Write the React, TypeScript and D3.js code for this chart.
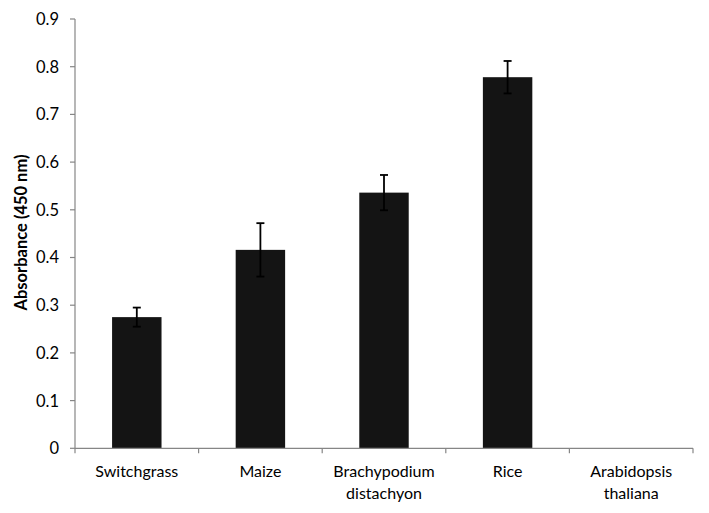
import React from "react";
import * as d3 from "d3";

const categories = ["Switchgrass", "Maize", "Brachypodium distachyon", "Rice", "Arabidopsis thaliana"];
const categoryLines = [["Switchgrass"], ["Maize"], ["Brachypodium", "distachyon"], ["Rice"], ["Arabidopsis", "thaliana"]];
const values = [0.275, 0.416, 0.536, 0.778, 0];
const errors = [0.02, 0.056, 0.037, 0.034, 0];
const yTicks = [0, 0.1, 0.2, 0.3, 0.4, 0.5, 0.6, 0.7, 0.8, 0.9];
const yTitle = "Absorbance (450 nm)";

export default function App() {
  const W = 709, H = 513;
  const left = 75, right = 693, top = 19, bottom = 448.3;
  const x = d3.scaleBand<string>().domain(categories).range([left, right]).paddingInner(0.6).paddingOuter(0.3);
  const xb = d3.scaleBand<string>().domain(categories).range([left, right]);
  const y = d3.scaleLinear().domain([0, 0.9]).range([bottom, top]);
  const font = "Lato, 'Open Sans', sans-serif";
  const axisColor = "#868686";
  const boundaries = categories.map((c) => xb(c)!).concat([right]);
  return (
    <svg width={W} height={H} style={{ position: "absolute", left: 0, top: 0 }} fontFamily={font}>
      <rect width={W} height={H} fill="#fff" />
      {categories.map((c, i) => {
        const bx = x(c)!;
        const bw = x.bandwidth();
        const cx = bx + bw / 2;
        return (
          <g key={c}>
            {values[i] > 0 && (
              <rect x={bx} y={y(values[i])} width={bw} height={y(0) - y(values[i])} fill="#141414" />
            )}
            {errors[i] > 0 && (
              <g stroke="#000" strokeWidth={1.8}>
                <line x1={cx} x2={cx} y1={y(values[i] + errors[i])} y2={y(values[i] - errors[i])} />
                <line x1={cx - 4} x2={cx + 4} y1={y(values[i] + errors[i])} y2={y(values[i] + errors[i])} />
                <line x1={cx - 4} x2={cx + 4} y1={y(values[i] - errors[i])} y2={y(values[i] - errors[i])} />
              </g>
            )}
          </g>
        );
      })}
      <line x1={left} x2={left} y1={top} y2={bottom} stroke={axisColor} strokeWidth={1.2} />
      <line x1={left} x2={right} y1={bottom} y2={bottom} stroke={axisColor} strokeWidth={1.2} />
      {yTicks.map((t) => (
        <g key={t}>
          <line x1={left - 5} x2={left} y1={y(t)} y2={y(t)} stroke={axisColor} strokeWidth={1.2} />
          <text x={59} y={y(t)} dy="0.36em" textAnchor="end" fontSize={16.5} fill="#000">
            {t === 0 ? "0" : d3.format(".1f")(t)}
          </text>
        </g>
      ))}
      {boundaries.map((b, i) => (
        <line key={i} x1={b} x2={b} y1={bottom} y2={bottom + 5} stroke={axisColor} strokeWidth={1.2} />
      ))}
      {categories.map((c, i) => (
        <text key={c} x={xb(c)! + xb.bandwidth() / 2} textAnchor="middle" fontSize={16} fill="#000">
          {categoryLines[i].map((l, j) => (
            <tspan key={j} x={xb(c)! + xb.bandwidth() / 2} y={477 + j * 22}>{l}</tspan>
          ))}
        </text>
      ))}
      <text transform={`translate(27,${232.5}) rotate(-90)`} textAnchor="middle" fontSize={16.5} fontWeight="bold" fill="#000">
        {yTitle}
      </text>
    </svg>
  );
}
